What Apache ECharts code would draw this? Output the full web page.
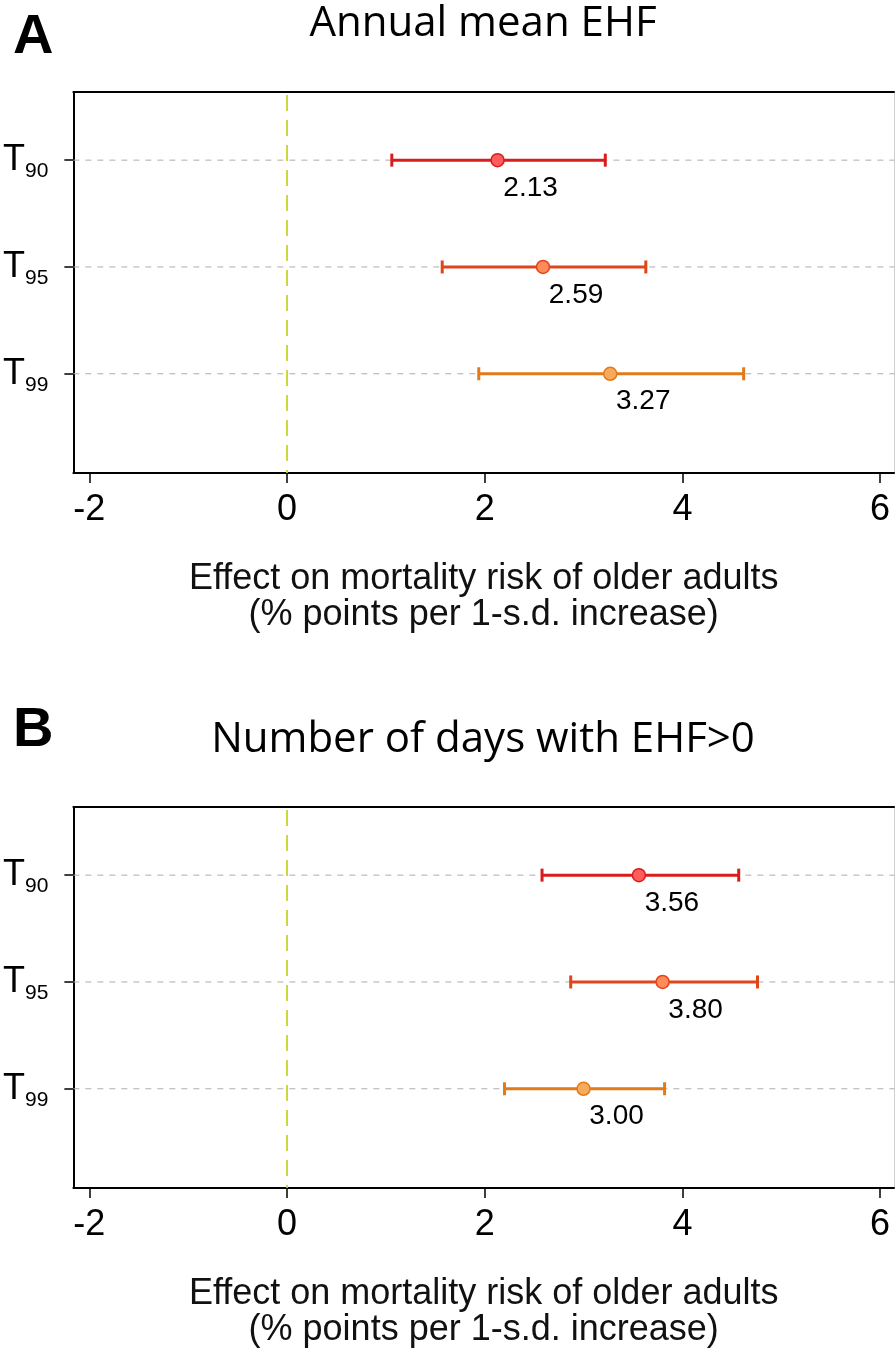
<!DOCTYPE html>
<html><head><meta charset="utf-8">
<script src="https://cdn.jsdelivr.net/npm/echarts@6/dist/echarts.min.js"></script>
<style>html,body{margin:0;padding:0;background:#fff}#c{width:896px;height:1350px}</style>
</head><body><div id="c"></div>
<script>
// ---- data ----
const subscripts = ['90', '95', '99'];          // T90, T95, T99
const rowPos = [3, 2, 1];                       // vertical position of each row
const panelLetters = ['A', 'B'];
const panelTitles = ['Annual mean EHF', 'Number of days with EHF>0'];
const estA = [2.13, 2.59, 3.27];
const lowA = [1.06, 1.57, 1.94];
const highA = [3.22, 3.63, 4.62];
const estB = [3.56, 3.80, 3.00];
const lowB = [2.58, 2.87, 2.20];
const highB = [4.57, 4.76, 3.82];
const xTicks = [-2, 0, 2, 4, 6];
const xName = 'Effect on mortality risk of older adults\n(% points per 1-s.d. increase)';

// ---- styles ----
const lineColors = ['#d91c1c', '#e0461a', '#e07a1a'];
const fillColors = ['#ff5c5c', '#ff8a5a', '#f8aa5c'];
const gridTops = [92, 807];
const FONT = 'Liberation Sans, Arial, sans-serif';

const panels = [
  {est: estA, low: lowA, high: highA},
  {est: estB, low: lowB, high: highB}
];

const grids = [], xAxes = [], yAxes = [], series = [], titles = [];

panels.forEach((p, g) => {
  grids.push({left: 72, top: gridTops[g], width: 822, height: 381});
  // bottom x axis
  xAxes.push({
    gridIndex: g, type: 'value', min: -2.162, max: 6.141, position: 'bottom',
    axisLine: {show: true, onZero: false, lineStyle: {color: '#000', width: 2}},
    axisTick: {show: true, customValues: xTicks, length: 10, lineStyle: {color: '#000', width: 1.5}},
    axisLabel: {show: true, customValues: xTicks, margin: 19, fontSize: 36, color: '#000', fontFamily: FONT},
    splitLine: {show: false},
    name: xName, nameLocation: 'middle', nameGap: 88,
    nameTextStyle: {fontSize: 36, lineHeight: 36, color: '#111', fontFamily: FONT}
  });
  // top border
  xAxes.push({
    gridIndex: g, type: 'value', min: -2.162, max: 6.141, position: 'top',
    axisLine: {show: true, onZero: false, lineStyle: {color: '#000', width: 2}},
    axisTick: {show: false}, axisLabel: {show: false}, splitLine: {show: false}
  });
  yAxes.push({
    gridIndex: g, type: 'value', min: 0.071, max: 3.638, position: 'left',
    axisLine: {show: true, onZero: false, lineStyle: {color: '#000', width: 2}},
    axisTick: {show: true, customValues: rowPos, length: 9, lineStyle: {color: '#000', width: 1.5}},
    axisLabel: {
      show: true, customValues: rowPos, margin: 25,
      formatter: v => '{t|T}{s|' + subscripts[rowPos.indexOf(v)] + '}',
      rich: {
        t: {fontSize: 36, color: '#000', fontFamily: FONT},
        s: {fontSize: 21, color: '#000', fontFamily: FONT, verticalAlign: 'bottom', padding: [0, 0, -4, 0]}
      }
    },
    splitLine: {show: false}
  });
  // right border
  yAxes.push({
    gridIndex: g, type: 'value', min: 0.071, max: 3.638, position: 'right',
    axisLine: {show: true, onZero: false, lineStyle: {color: '#cfcfcf', width: 1}},
    axisTick: {show: false}, axisLabel: {show: false}, splitLine: {show: false}
  });

  const xi = g * 2, yi = g * 2;
  // dashed row gridlines
  series.push({
    type: 'custom', xAxisIndex: xi, yAxisIndex: yi, z: 1, silent: true,
    data: rowPos.map(r => [0, r]),
    renderItem: (params, api) => {
      const cs = params.coordSys;
      const y = api.coord([0, api.value(1)])[1];
      return {type: 'line', shape: {x1: cs.x, y1: y, x2: cs.x + cs.width, y2: y},
        style: {stroke: '#adadad', lineWidth: 1, lineDash: [6, 6]}};
    }
  });
  // vertical zero line
  series.push({
    type: 'custom', xAxisIndex: xi, yAxisIndex: yi, z: 1, silent: true,
    data: [[0, 0]],
    renderItem: (params, api) => {
      const cs = params.coordSys;
      const x = api.coord([api.value(0), 1])[0];
      return {type: 'line', shape: {x1: x, y1: cs.y + 3, x2: x, y2: cs.y + cs.height},
        style: {stroke: '#c9d52a', lineWidth: 1.8, lineDash: [16, 9]}};
    }
  });
  // error bars
  series.push({
    type: 'custom', xAxisIndex: xi, yAxisIndex: yi, z: 3, silent: true,
    data: p.est.map((e, i) => [p.low[i], p.high[i], rowPos[i], i]),
    renderItem: (params, api) => {
      const lo = api.coord([api.value(0), api.value(2)]);
      const hi = api.coord([api.value(1), api.value(2)]);
      const c = lineColors[api.value(3)];
      const cap = 6.5;
      return {type: 'group', children: [
        {type: 'line', shape: {x1: lo[0], y1: lo[1], x2: hi[0], y2: hi[1]}, style: {stroke: c, lineWidth: 3}},
        {type: 'line', shape: {x1: lo[0], y1: lo[1] - cap, x2: lo[0], y2: lo[1] + cap}, style: {stroke: c, lineWidth: 3}},
        {type: 'line', shape: {x1: hi[0], y1: hi[1] - cap, x2: hi[0], y2: hi[1] + cap}, style: {stroke: c, lineWidth: 3}}
      ]};
    }
  });
  // point estimates
  series.push({
    type: 'scatter', xAxisIndex: xi, yAxisIndex: yi, z: 4, silent: true,
    symbolSize: 13,
    itemStyle: {opacity: 1},
    data: p.est.map((e, i) => ({
      value: [e, rowPos[i]],
      itemStyle: {color: fillColors[i], borderColor: lineColors[i], borderWidth: 1.5, opacity: 1}
    })),
    label: {
      show: true, position: 'inside', offset: [33, 28], opacity: 1,
      formatter: d => d.value[0].toFixed(2),
      fontSize: 28, color: '#000', fontFamily: FONT, textBorderWidth: 0
    }
  });

  titles.push({
    text: panelLetters[g], left: 13, top: g === 0 ? 10 : 703, padding: 0,
    textStyle: {fontSize: 56, fontWeight: 'bold', color: '#000', fontFamily: FONT}
  });
  titles.push({
    text: panelTitles[g], left: 483, textAlign: 'center', top: g === 0 ? 3 : 719, padding: 0,
    textStyle: {fontSize: 42, fontWeight: 'normal', color: '#000', fontFamily: 'Open Sans, sans-serif'}
  });
});

const chart = echarts.init(document.getElementById('c'), null, {renderer: 'canvas'});
chart.setOption({
  animation: false,
  backgroundColor: '#fff',
  title: titles,
  grid: grids,
  xAxis: xAxes,
  yAxis: yAxes,
  series: series
});
</script>
</body></html>
